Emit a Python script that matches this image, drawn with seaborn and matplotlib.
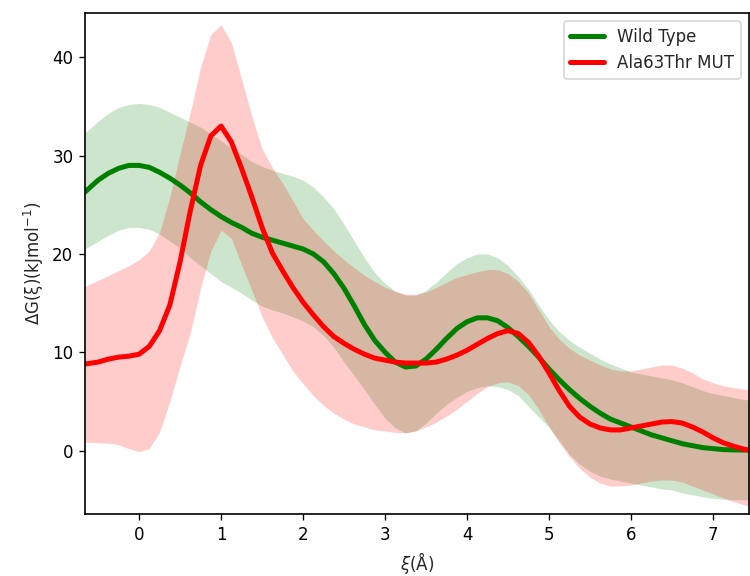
import matplotlib
matplotlib.use("Agg")
import matplotlib.pyplot as plt
import seaborn as sns
import pandas as pd

xi = [-0.66, -0.5, -0.375, -0.25, -0.125, 0.0, 0.125, 0.25, 0.375, 0.5, 0.625, 0.75, 0.875,
      1.0, 1.125, 1.25, 1.375, 1.5, 1.625, 1.75, 1.875, 2.0, 2.125, 2.25, 2.375, 2.5, 2.625,
      2.75, 2.875, 3.0, 3.125, 3.25, 3.375, 3.5, 3.625, 3.75, 3.875, 4.0, 4.125, 4.25, 4.375,
      4.5, 4.625, 4.75, 4.875, 5.0, 5.125, 5.25, 5.375, 5.5, 5.625, 5.75, 5.875, 6.0, 6.125,
      6.25, 6.375, 6.5, 6.625, 6.75, 6.875, 7.0, 7.125, 7.25, 7.375, 7.44]

wt_mean = [26.3, 27.5, 28.2, 28.7, 29.0, 29.0, 28.8, 28.3, 27.7, 27.0, 26.2, 25.3, 24.5,
           23.8, 23.2, 22.7, 22.1, 21.7, 21.4, 21.1, 20.8, 20.5, 20.0, 19.2, 18.0, 16.5, 14.7,
           12.8, 11.2, 10.0, 9.0, 8.5, 8.6, 9.3, 10.3, 11.4, 12.4, 13.1, 13.5, 13.5, 13.2,
           12.5, 11.6, 10.6, 9.5, 8.3, 7.2, 6.2, 5.3, 4.5, 3.8, 3.2, 2.8, 2.4, 2.0,
           1.6, 1.3, 1.0, 0.7, 0.5, 0.3, 0.2, 0.1, 0.07, 0.05, 0.05]
wt_upper = [32.3, 33.5, 34.3, 34.9, 35.2, 35.3, 35.2, 34.9, 34.4, 33.9, 33.4, 32.9, 32.2,
            31.5, 30.8, 30.1, 29.4, 28.9, 28.5, 28.2, 27.9, 27.5, 26.8, 25.8, 24.6, 23.0, 21.3,
            19.6, 18.1, 17.0, 16.2, 15.8, 15.8, 16.3, 17.1, 18.1, 19.0, 19.6, 20.0, 20.0, 19.6,
            18.8, 17.7, 16.4, 14.8, 13.3, 12.1, 11.2, 10.5, 9.9, 9.3, 8.8, 8.4, 8.0, 7.8,
            7.6, 7.4, 7.2, 6.9, 6.5, 6.1, 5.8, 5.6, 5.4, 5.2, 5.15]
wt_lower = [20.5, 21.3, 21.9, 22.4, 22.7, 22.7, 22.5, 22.0, 21.3, 20.6, 19.6, 18.8, 18.0,
            17.2, 16.6, 16.0, 15.3, 14.7, 14.3, 14.0, 13.6, 13.2, 12.6, 11.7, 10.5, 9.0, 7.6,
            6.2, 4.7, 3.3, 2.3, 1.8, 2.0, 2.8, 3.8, 4.7, 5.4, 6.0, 6.4, 6.6, 6.5,
            6.2, 5.6, 4.5, 3.4, 2.4, 1.0, -0.4, -1.4, -2.1, -2.6, -2.9, -3.1, -3.3, -3.5,
            -3.7, -3.9, -4.0, -4.3, -4.5, -4.7, -4.85, -4.95, -5.0, -5.0, -5.0]

mut_mean = [8.8, 9.0, 9.3, 9.5, 9.6, 9.8, 10.6, 12.2, 14.8, 19.2, 24.4, 29.0, 32.0,
            33.0, 31.4, 28.7, 25.8, 22.7, 20.1, 18.3, 16.6, 15.1, 13.8, 12.6, 11.6, 10.9, 10.3,
            9.8, 9.4, 9.2, 9.0, 8.9, 8.9, 8.9, 9.0, 9.3, 9.7, 10.2, 10.8, 11.4, 11.9,
            12.2, 11.9, 11.0, 9.6, 7.9, 6.1, 4.5, 3.4, 2.7, 2.3, 2.1, 2.1, 2.3, 2.5,
            2.7, 2.9, 2.95, 2.8, 2.4, 1.9, 1.3, 0.8, 0.45, 0.15, 0.05]
mut_upper = [16.7, 17.3, 17.8, 18.3, 18.8, 19.4, 20.3, 22.2, 25.8, 30.2, 34.4, 39.0, 42.3,
             43.3, 41.5, 37.8, 34.0, 30.7, 28.8, 27.2, 25.4, 23.6, 22.4, 21.3, 20.3, 19.4, 18.6,
             17.8, 17.2, 16.6, 16.2, 15.9, 15.9, 16.1, 16.6, 17.1, 17.6, 17.9, 18.2, 18.4, 18.4,
             18.0, 17.2, 16.0, 14.3, 12.6, 11.3, 10.4, 9.7, 9.2, 8.7, 8.3, 8.1, 8.1, 8.3,
             8.5, 8.7, 8.7, 8.4, 7.9, 7.3, 6.9, 6.6, 6.4, 6.25, 6.2]
mut_lower = [0.85, 0.8, 0.75, 0.6, 0.2, -0.1, 0.2, 1.9, 5.0, 8.6, 12.0, 16.5, 20.3,
             22.4, 21.6, 18.9, 16.3, 13.6, 11.5, 9.8, 8.1, 6.8, 5.6, 4.6, 3.8, 3.2, 2.7,
             2.4, 2.1, 2.0, 1.85, 1.8, 2.0, 2.4, 2.9, 3.5, 4.2, 5.0, 5.8, 6.5, 6.9,
             7.0, 6.6, 5.7, 4.2, 2.4, 0.8, -0.6, -1.8, -2.7, -3.3, -3.6, -3.6, -3.5, -3.3,
             -3.1, -3.0, -3.0, -3.2, -3.6, -4.0, -4.4, -4.8, -5.2, -5.5, -5.7]

labels = ["Wild Type", "Ala63Thr MUT"]
colors = ["green", "red"]

df = pd.concat([
    pd.DataFrame({"xi": xi, "dG": wt_mean, "lo": wt_lower, "hi": wt_upper, "system": labels[0]}),
    pd.DataFrame({"xi": xi, "dG": mut_mean, "lo": mut_lower, "hi": mut_upper, "system": labels[1]}),
])

sns.set_style("ticks")
plt.rcParams["font.family"] = ["DejaVu Sans"]

fig = plt.figure(figsize=(6.25, 4.8), dpi=120)
ax = fig.add_axes([85 / 750, 62 / 576, 664 / 750, 501 / 576])

for lab, col in zip(labels, colors):
    sub = df[df["system"] == lab]
    ax.fill_between(sub["xi"], sub["lo"], sub["hi"], color=col, alpha=0.2, linewidth=0)

sns.lineplot(data=df, x="xi", y="dG", hue="system", palette=dict(zip(labels, colors)),
             linewidth=3, ax=ax, estimator=None, sort=False)

ax.set_xlim(-0.66, 7.44)
ax.set_ylim(-6.45, 44.5)
ax.set_xticks(range(0, 8))
ax.set_yticks([0, 10, 20, 30, 40])
ax.set_xlabel(r"$\xi$(Å)")
ax.set_ylabel(r"ΔG(ξ)(kJmol$^{-1}$)")
for s in ax.spines.values():
    s.set_visible(True)
    s.set_color("black")
    s.set_linewidth(1.0)
ax.tick_params(colors="black", labelsize=10)
leg = ax.legend(loc="upper right", fontsize=10, frameon=True)
leg.set_title(None)

fig.savefig("out.png", dpi=120)
